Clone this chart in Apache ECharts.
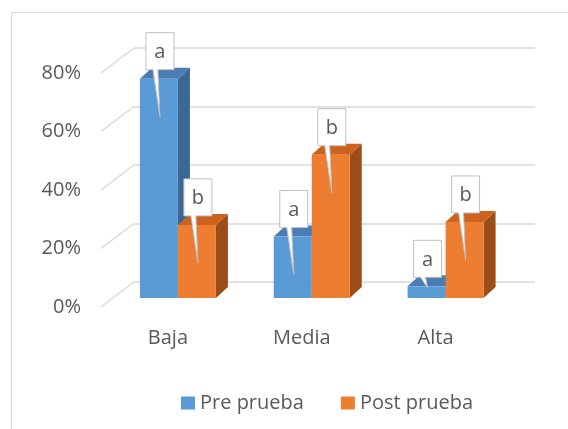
<!DOCTYPE html>
<html>
<head>
<meta charset="utf-8">
<script src="https://cdn.jsdelivr.net/npm/echarts@6/dist/echarts.min.js"></script>
<style>
  html, body { margin: 0; padding: 0; background: #ffffff; }
  #chart { width: 568px; height: 429px; }
</style>
</head>
<body>
<div id="chart"></div>
<script>
// Chart data
const categories = ['Baja', 'Media', 'Alta'];
const prePrueba = [0.75, 0.21, 0.04];
const postPrueba = [0.25, 0.49, 0.26];
const preLetters = ['a', 'a', 'a'];
const postLetters = ['b', 'b', 'b'];
const yTicks = [0, 0.2, 0.4, 0.6, 0.8];
const seriesNames = ['Pre prueba', 'Post prueba'];

// Styling
const FONT = '"Open Sans", "Noto Sans", sans-serif';
const FONT_SIZE = 20;
const TEXT = '#595959';
const GRID_LINE = '#d9d9d9';
const DEPTH_X = 12, DEPTH_Y = -11;   // projected depth of each bar
const WALL_X = 33, WALL_Y = -25;     // projected depth of the side wall
const BAR_RATIO = 0.284;             // bar width as a share of the category band

const palettes = [
  { front: '#5b9bd5', top: '#4a7db3', side: '#3b6791' },
  { front: '#ed7d31', top: '#cc621d', side: '#9c4e19' }
];

// Front-face geometry of one bar in the bar plane
function barBox(api, group) {
  const cat = api.value(0), val = api.value(1);
  const top = api.coord([cat, val]);
  const base = api.coord([cat, 0]);
  const w = api.size([1, 0])[0] * BAR_RATIO;
  const x0 = group === 0 ? top[0] - w : top[0];
  return { x0: x0, x1: x0 + w, yt: top[1], yb: base[1], w: w };
}

// 3D prism: side, top, then front face
function barRender(group) {
  return function (params, api) {
    const b = barBox(api, group);
    const c = palettes[group];
    return {
      type: 'group',
      children: [
        { type: 'polygon', shape: { points: [[b.x1, b.yb], [b.x1 + DEPTH_X, b.yb + DEPTH_Y], [b.x1 + DEPTH_X, b.yt + DEPTH_Y], [b.x1, b.yt]] }, style: { fill: c.side } },
        { type: 'polygon', shape: { points: [[b.x0, b.yt], [b.x1, b.yt], [b.x1 + DEPTH_X, b.yt + DEPTH_Y], [b.x0 + DEPTH_X, b.yt + DEPTH_Y]] }, style: { fill: c.top } },
        { type: 'rect', shape: { x: b.x0, y: b.yt, width: b.w, height: b.yb - b.yt }, style: { fill: c.front } }
      ]
    };
  };
}

// Callout data: [category, value, group]
const calloutData = [];
const calloutLetters = [];
categories.forEach(function (c, i) {
  calloutData.push([i, prePrueba[i], 0]); calloutLetters.push(preLetters[i]);
  calloutData.push([i, postPrueba[i], 1]); calloutLetters.push(postLetters[i]);
});

function calloutRender(params, api) {
  const group = api.value(2);
  const b = barBox(api, group);
  const cx = (b.x0 + b.x1) / 2 + 1;
  const bw = 28, bh = 37;
  const bottom = b.yt - 9;
  const topY = bottom - bh;
  const tipY = Math.min(b.yt + 38, b.yb - 10);
  const pts = [
    [cx - bw / 2, topY], [cx + bw / 2, topY], [cx + bw / 2, bottom],
    [cx - 2, bottom], [cx, tipY], [cx - 7, bottom],
    [cx - bw / 2, bottom]
  ];
  return {
    type: 'group',
    children: [
      { type: 'polygon', shape: { points: pts }, style: { fill: '#ffffff', stroke: '#bfbfbf', lineWidth: 1 } },
      { type: 'text', style: { x: cx, y: topY + bh / 2 + 1, text: calloutLetters[params.dataIndex], align: 'center', verticalAlign: 'middle', fill: TEXT, font: FONT_SIZE + 'px ' + FONT } }
    ]
  };
}

// Diagonal grid lines on the left side wall
function wallRender(params, api) {
  const p = api.coord([0, api.value(1)]);
  const x = params.coordSys.x;
  return {
    type: 'line',
    shape: { x1: x, y1: p[1], x2: x + WALL_X, y2: p[1] + WALL_Y },
    style: { stroke: GRID_LINE, lineWidth: 1.5 }
  };
}

const chart = echarts.init(document.getElementById('chart'), null, { renderer: 'canvas' });

const hiddenY = { type: 'value', min: 0, max: 0.8, interval: 0.2, show: false, splitLine: { show: false } };

chart.setOption({
  animation: false,
  backgroundColor: '#ffffff',
  textStyle: { fontFamily: FONT },
  graphic: [
    { type: 'rect', shape: { x: 11.5, y: 12.5, width: 700, height: 600 }, style: { fill: 'none', stroke: GRID_LINE, lineWidth: 1 }, silent: true, z: -10 }
  ],
  grid: [
    { left: 134, top: 48, width: 401, height: 234 },      // back wall
    { left: 101, top: 73, width: 401.5, height: 234 },    // front edge (axis labels)
    { left: 111, top: 64, width: 401.5, height: 234 }     // bar plane
  ],
  xAxis: [
    { gridIndex: 0, type: 'category', data: categories, show: false },
    {
      gridIndex: 1, type: 'category', data: categories,
      axisLine: { show: false }, axisTick: { show: false },
      axisLabel: { color: TEXT, fontFamily: FONT, fontSize: FONT_SIZE, margin: 21 }
    },
    { gridIndex: 2, type: 'category', data: categories, show: false }
  ],
  yAxis: [
    {
      gridIndex: 0, type: 'value', min: 0, max: 0.8, interval: 0.2,
      axisLine: { show: false }, axisTick: { show: false }, axisLabel: { show: false },
      splitLine: { show: true, lineStyle: { color: GRID_LINE, width: 1.5 } }
    },
    {
      gridIndex: 1, type: 'value', min: 0, max: 0.8, interval: 0.2,
      axisLine: { show: false }, axisTick: { show: false }, splitLine: { show: false },
      axisLabel: {
        color: TEXT, fontFamily: FONT, fontSize: FONT_SIZE, margin: 20,
        formatter: function (v) { return Math.round(v * 100) + '%'; }
      }
    },
    Object.assign({ gridIndex: 2 }, hiddenY)
  ],
  legend: {
    data: seriesNames,
    left: 181, top: 393, padding: 0,
    icon: 'rect', itemWidth: 14, itemHeight: 13, itemGap: 37,
    textStyle: { color: TEXT, fontFamily: FONT, fontSize: FONT_SIZE }
  },
  series: [
    {
      type: 'custom', xAxisIndex: 1, yAxisIndex: 1, silent: true, clip: false, z: 1,
      data: yTicks.map(function (v) { return [0, v]; }),
      renderItem: wallRender
    },
    {
      name: seriesNames[0], type: 'custom', xAxisIndex: 2, yAxisIndex: 2, clip: false, z: 2,
      itemStyle: { color: palettes[0].front },
      data: prePrueba.map(function (v, i) { return [i, v]; }),
      renderItem: barRender(0)
    },
    {
      name: seriesNames[1], type: 'custom', xAxisIndex: 2, yAxisIndex: 2, clip: false, z: 3,
      itemStyle: { color: palettes[1].front },
      data: postPrueba.map(function (v, i) { return [i, v]; }),
      renderItem: barRender(1)
    },
    {
      type: 'custom', xAxisIndex: 2, yAxisIndex: 2, clip: false, z: 5, silent: true,
      data: calloutData,
      renderItem: calloutRender
    }
  ]
});
</script>
</body>
</html>
